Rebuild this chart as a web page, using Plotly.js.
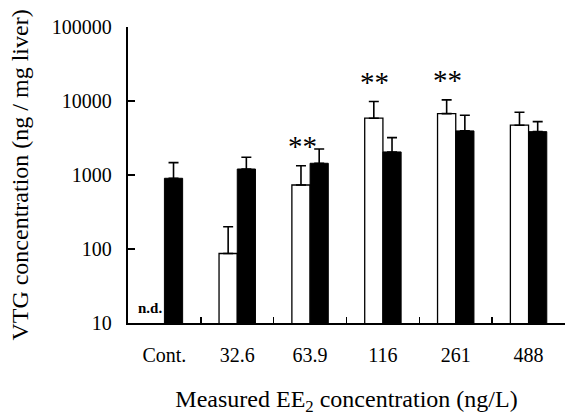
<!DOCTYPE html>
<html>
<head>
<meta charset="utf-8">
<script src="https://cdn.plot.ly/plotly-3.0.1.min.js"></script>
<style>html,body{margin:0;padding:0;background:#fff;}</style>
</head>
<body>
<div id="chart" style="width:566px;height:419px;"></div>
<script>
// Data
var categories = ["Cont.", "32.6", "63.9", "116", "261", "488"];
var whiteValues = [null, 87, 733, 5860, 6760, 4710];
var whiteErrors = [0, 113, 603, 3980, 3610, 2350];
var blackValues = [903, 1205, 1440, 2050, 3945, 3855];
var blackErrors = [566, 533, 810, 1150, 2485, 1415];
var significance = ["", "", "**", "**", "**", ""];
var ndLabel = "n.d.";

var serif = "Liberation Serif, Times New Roman, serif";

var traces = [
  {
    type: "bar", x: categories, y: whiteValues, name: "white",
    marker: {color: "#ffffff", line: {color: "#000000", width: 1.3}},
    error_y: {type: "data", array: whiteErrors, arrayminus: whiteErrors.map(function(){return 0;}),
              symmetric: false, color: "#000000", thickness: 1.6, width: 5},
    hoverinfo: "skip"
  },
  {
    type: "bar", x: categories, y: blackValues, name: "black",
    marker: {color: "#000000", line: {color: "#000000", width: 1}},
    error_y: {type: "data", array: blackErrors, arrayminus: blackErrors.map(function(){return 0;}),
              symmetric: false, color: "#000000", thickness: 1.6, width: 5},
    hoverinfo: "skip"
  }
];

var annotations = [];
categories.forEach(function(c, i){
  if (significance[i]) {
    annotations.push({
      x: i, y: Math.log10(whiteValues[i] + whiteErrors[i]), xref: "x", yref: "y",
      text: significance[i], showarrow: false, xshift: -8, yshift: 2,
      yanchor: "bottom", font: {family: serif, size: 29, color: "#000"}
    });
  }
  if (whiteValues[i] === null) {
    annotations.push({
      x: i, y: 1, xref: "x", yref: "y", text: "<b>" + ndLabel + "</b>", showarrow: false,
      xshift: -14, yshift: 5, yanchor: "bottom",
      font: {family: serif, size: 15, color: "#000"}
    });
  }
});

var layout = {
  width: 566, height: 419,
  margin: {l: 128, r: 1, t: 27, b: 96},
  paper_bgcolor: "#ffffff", plot_bgcolor: "#ffffff",
  showlegend: false,
  barmode: "group", bargap: 0.5, bargroupgap: 0,
  font: {family: serif, color: "#000000", size: 20},
  xaxis: {
    type: "category", range: [-0.5, categories.length - 0.5],
    showgrid: false, zeroline: false,
    showline: true, linecolor: "#000", linewidth: 2.2,
    ticks: "inside", tickson: "boundaries", ticklen: 6, tickwidth: 1.6, tickcolor: "#000",
    ticklabelstandoff: 13, tickangle: 0,
    tickfont: {family: serif, size: 20, color: "#000"},
    title: {text: "Measured EE<sub>2</sub> concentration (ng/L)", standoff: 25,
            font: {family: serif, size: 24, color: "#000"}},
    automargin: false, fixedrange: true
  },
  yaxis: {
    type: "log", range: [1, 5], showgrid: false, zeroline: false,
    showline: true, linecolor: "#000", linewidth: 2.2,
    ticks: "inside", ticklen: 7, tickwidth: 1.6, tickcolor: "#000",
    tickvals: [10, 100, 1000, 10000, 100000],
    ticktext: ["10", "100", "1000", "10000", "100000"],
    ticklabelstandoff: 10,
    tickfont: {family: serif, size: 20, color: "#000"},
    title: {text: "VTG concentration (ng / mg liver)", standoff: 16,
            font: {family: serif, size: 24, color: "#000"}},
    automargin: false, fixedrange: true
  },
  annotations: annotations
};

Plotly.newPlot("chart", traces, layout, {displayModeBar: false, staticPlot: true});
</script>
</body>
</html>
